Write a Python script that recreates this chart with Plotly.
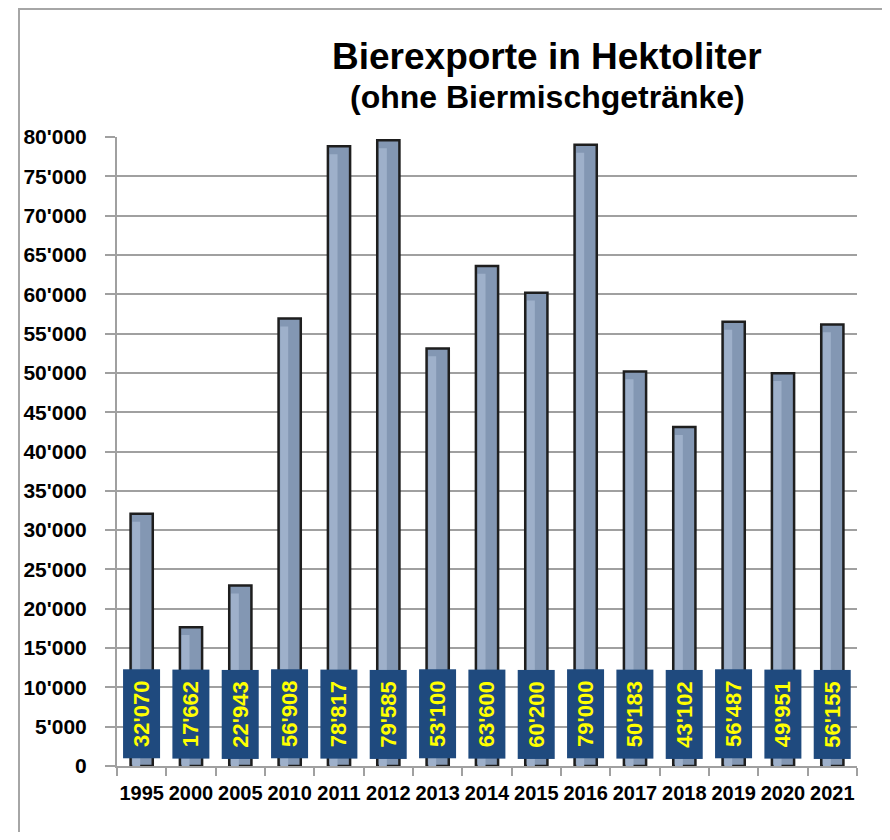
import plotly.graph_objects as go

years = ["1995", "2000", "2005", "2010", "2011", "2012", "2013", "2014",
         "2015", "2016", "2017", "2018", "2019", "2020", "2021"]
exports = [32070, 17662, 22943, 56908, 78817, 79585, 53100, 63600,
           60200, 79000, 50183, 43102, 56487, 49951, 56155]
ytickvals = list(range(0, 80001, 5000))

def fmt(v):
    return f"{v:,}".replace(",", "'")

OFF = 8  # page body margin
W, H = 874, 824
L, R, T, B = 117 - OFF, 857 - OFF, 137 - OFF, 766 - OFF

fig = go.Figure()
fig.add_trace(go.Bar(
    x=years, y=exports, width=0.45,
    marker=dict(color="#8397b3", line=dict(color="#1e1e1e", width=2.5)),
    hoverinfo="x+y",
))
fig.add_trace(go.Bar(
    x=years, y=[v - 1000 for v in exports], width=0.16, offset=-0.19,
    base=[0] * len(exports),
    marker=dict(color="#9eb0ca", line=dict(width=0)),
    hoverinfo="skip",
))

ann = []
for i, v in enumerate(exports):
    ann.append(dict(
        x=i, y=6600, xref="x", yref="y", text="<b>" + fmt(v) + "</b>", showarrow=False,
        textangle=-90, font=dict(family="Liberation Sans, Arial", size=22, color="#ffff00"),
        bgcolor="#1f4a7e", width=86, height=34, align="center",
    ))
tx = (547 - OFF - L) / (R - L)
ann.append(dict(x=tx, y=(B - (57 - OFF)) / (B - T), xref="paper", yref="paper",
                text="<b>Bierexporte in Hektoliter</b>", showarrow=False,
                font=dict(family="Liberation Sans, Arial", size=37, color="#000"),
                xanchor="center", yanchor="middle"))
ann.append(dict(x=tx, y=(B - (97 - OFF)) / (B - T), xref="paper", yref="paper",
                text="<b>(ohne Biermischgetränke)</b>", showarrow=False,
                font=dict(family="Liberation Sans, Arial", size=32, color="#000"),
                xanchor="center", yanchor="middle"))

fig.update_layout(
    width=W, height=H,
    margin=dict(l=L, r=W - R, t=T, b=H - B, pad=0),
    paper_bgcolor="white", plot_bgcolor="white",
    barmode="overlay", showlegend=False,
    separators=".'",
    annotations=ann,
    font=dict(family="Liberation Sans, Arial", color="#000"),
    shapes=[dict(type="rect", xref="paper", yref="paper",
                 x0=(19 - OFF - L) / (R - L), x1=(W + 20 - L) / (R - L),
                 y0=(B - (H + 20)) / (B - T), y1=(B - 1) / (B - T),
                 line=dict(color="#a6a6a6", width=2), fillcolor="rgba(0,0,0,0)", layer="below")],
)
fig.update_xaxes(
    type="category", range=[-0.5, 14.5], tickson="boundaries", ticks="outside", ticklen=8,
    tickcolor="#a0a0a0", tickwidth=1.5,
    showline=True, linecolor="#a0a0a0", linewidth=2,
    showgrid=False, tickangle=0, ticklabelstandoff=8,
    tickfont=dict(family="Liberation Sans, Arial", size=20, color="#000", weight="bold"),
)
fig.update_yaxes(
    range=[0, 80000], tickvals=ytickvals, tickformat=",d",
    ticks="outside", ticklen=10, tickcolor="#a0a0a0", tickwidth=1.5,
    showline=True, linecolor="#a0a0a0", linewidth=2,
    showgrid=True, gridcolor="#a0a0a0", gridwidth=1.5, zeroline=False,
    ticklabelstandoff=14,
    tickfont=dict(family="Liberation Sans, Arial", size=21, color="#000", weight="bold"),
)

fig.write_html("out.html")
